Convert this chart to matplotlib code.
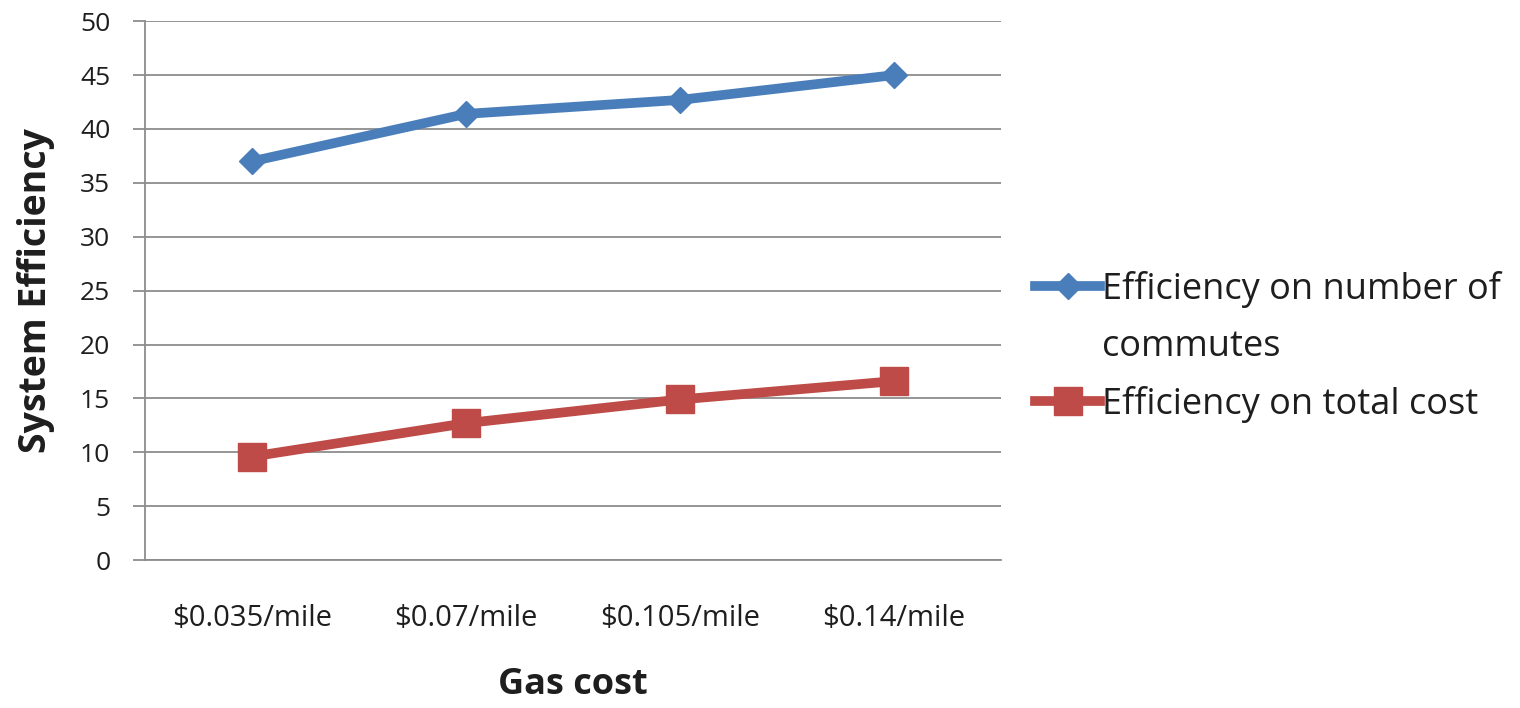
import matplotlib
matplotlib.use("Agg")
import matplotlib.pyplot as plt
from matplotlib.lines import Line2D

# gas price scenarios and the two efficiency measures
gas_costs = ["$0.035/mile", "$0.07/mile", "$0.105/mile", "$0.14/mile"]
eff_commutes = [37.0, 41.4, 42.7, 45.0]
eff_total_cost = [9.6, 12.7, 14.9, 16.6]
series_names = ["Efficiency on number of commutes", "Efficiency on total cost"]

BLUE = "#4a7ebb"
RED = "#be4b48"
GRID = "#8c8c8c"
TEXT = "#1e1e1e"

plt.rcParams["font.family"] = ["Open Sans", "DejaVu Sans"]

fig = plt.figure(figsize=(15.2, 7.08), dpi=100)
ax = fig.add_axes([0.0954, 0.209, 0.5632, 0.761])

x = [i + 0.5 for i in range(len(gas_costs))]
ax.plot(x, eff_commutes, color=BLUE, lw=7, marker="D", ms=13,
        solid_joinstyle="round", zorder=3)
ax.plot(x, eff_total_cost, color=RED, lw=7, marker="s", ms=20,
        solid_joinstyle="round", zorder=3)

ax.set_xlim(0, len(gas_costs))
ax.set_ylim(0, 50)
ax.set_yticks(range(0, 51, 5))
ax.set_xticks(x)
ax.set_xticklabels(gas_costs)
ax.yaxis.grid(True, color=GRID, lw=1.3)
ax.set_axisbelow(True)

for s in ["top", "right"]:
    ax.spines[s].set_visible(False)
for s in ["left", "bottom"]:
    ax.spines[s].set_color(GRID)
    ax.spines[s].set_linewidth(1.3)

ax.tick_params(axis="y", length=9, width=1.3, color=GRID, labelsize=19,
               pad=16, labelcolor=TEXT)
ax.tick_params(axis="x", length=0, labelsize=21, pad=32, labelcolor=TEXT)

ax.set_ylabel("System Efficiency", fontsize=27, fontweight="bold",
              labelpad=18, color=TEXT)
ax.set_xlabel("Gas cost", fontsize=26, fontweight="bold", labelpad=24,
              color=TEXT)

# legend: first name wraps onto a second row, handle stays on the first row
first, second = series_names[0].rsplit(" ", 1)
handles = [
    Line2D([], [], color=BLUE, lw=7, marker="D", ms=13),
    Line2D([], [], color="none"),
    Line2D([], [], color=RED, lw=7, marker="s", ms=20),
]
labels = [first, second, series_names[1]]
fig.legend(handles, labels, loc="center left", bbox_to_anchor=(0.681, 0.51),
           frameon=False, fontsize=26, handlelength=1.8, handletextpad=0.05,
           labelspacing=0.58, borderpad=0, borderaxespad=0,
           labelcolor=TEXT)

fig.savefig("out.png", dpi=100)
